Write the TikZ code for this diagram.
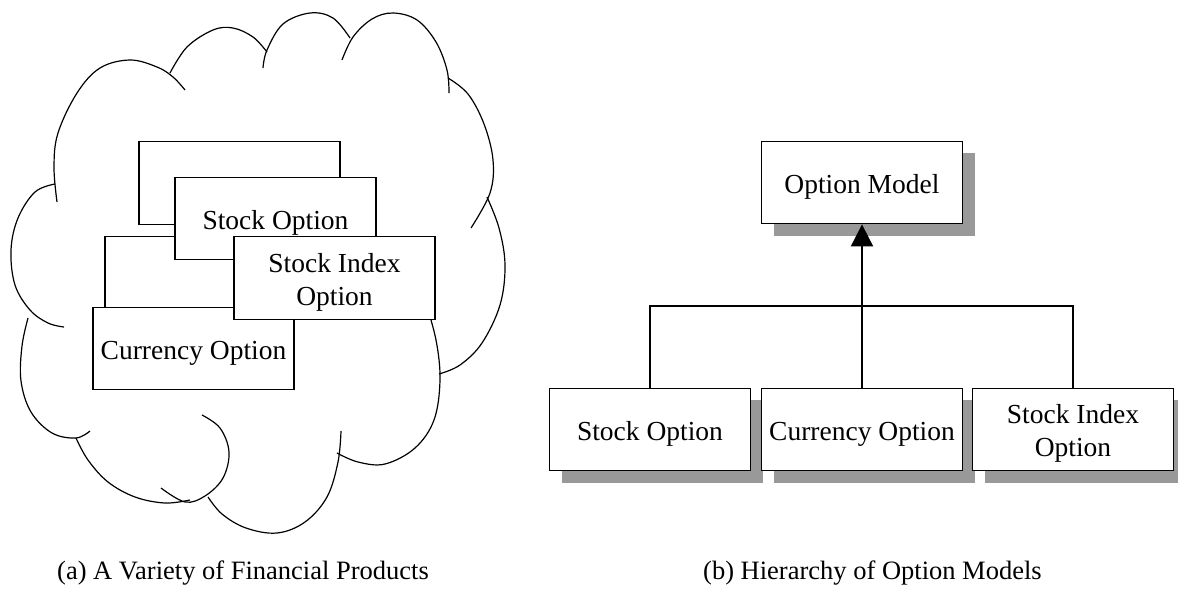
\documentclass[tikz,border=0pt]{standalone}
\usepackage{fontspec}
\setmainfont{Liberation Serif}
\usetikzlibrary{arrows.meta,shadows}
\definecolor{shadowgray}{HTML}{999999}
\newcommand\tstr{\rule{0pt}{27pt}}
\tikzset{
  box/.style={draw, fill=white, line width=1.3pt, minimum width=201pt,
    minimum height=82.5pt, inner sep=2pt, align=center,
    font=\fontsize{27.5}{33}\selectfont},
  sbox/.style={box, drop shadow={shadow xshift=12pt, shadow yshift=-12pt,
    fill=shadowgray, opacity=1, draw=none}},
  lobe/.style={line width=1.2pt, smooth, tension=0.6},
  conn/.style={line width=1.3pt},
  captext/.style={anchor=base west, inner sep=0pt, font=\fontsize{26.5}{32}\selectfont},
}
\begin{document}
\begin{tikzpicture}[x=1pt,y=-1pt]
\useasboundingbox (0,0) rectangle (1178,598);
% ---------- cloud ----------
\draw[lobe] plot coordinates {(57,202) (54,167) (58,133) (77,93) (100,68) (130,60) (157,67) (173,77) (185,90)};
\draw[lobe] plot coordinates {(170,73) (187,47) (213,30) (233,28) (253,37) (267,52)};
\draw[lobe] plot coordinates {(263,68) (267,50) (283,24) (310,13) (333,18) (350,38)};
\draw[lobe] plot coordinates {(342,60) (353,37) (372,19) (393,13) (417,20) (436,42) (447,70) (449,93)};
\draw[lobe] plot coordinates {(448,78) (468,94) (484,124) (493,160) (490,193) (471,228)};
\draw[lobe] plot coordinates {(487,197) (499,228) (505,265) (500,305) (482,343) (460,365) (439,374)};
\draw[lobe] plot coordinates {(425,300) (436,340) (440,380) (434,420) (415,448) (385,464) (358,462) (337,453)};
\draw[lobe] plot coordinates {(341,431) (338,462) (327,497) (305,522) (277,533) (246,528) (222,514) (208,497)};
\draw[lobe] plot coordinates {(202,415) (220,428) (229,452) (223,478) (205,496) (185,502) (161,488)};
\draw[lobe] plot coordinates {(76,438) (88,460) (108,482) (135,497) (165,503) (190,500)};
\draw[lobe] plot coordinates {(28,318) (22,346) (21,381) (31,412) (52,433) (76,438) (90,431)};
\draw[lobe] plot coordinates {(55,184) (35,192) (18,218) (11,250) (15,285) (30,310) (48,323) (64,327)};
% ---------- left boxes ----------
\node[box] (back1) at (239.5,183) {};
\node[box] (back2) at (205.5,278) {};
\node[box] (so1) at (275.5,218.5) {\tstr Stock Option};
\node[box] (cu1) at (193.5,348.5) {\tstr Currency Option};
\node[box] (si1) at (334.5,278) {\tstr Stock Index\\Option};
% ---------- right hierarchy ----------
\node[sbox] (om) at (862,182.5) {\tstr Option Model};
\node[sbox] (so2) at (650,429.5) {\tstr Stock Option};
\node[sbox] (cu2) at (862,429.5) {\tstr Currency Option};
\node[sbox] (si2) at (1073,429.5) {\tstr Stock Index\\Option};
\coordinate (junc) at (862,306);
\draw[conn] (so2.north) |- (junc) -| (si2.north);
\draw[conn] (cu2.north) -- (junc);
\draw[line width=2pt, -{Triangle[width=22pt,length=22pt]}] (junc) -- (om.south);
% ---------- captions ----------
\node[captext] (capa) at (57,579) {(a) A Variety of Financial Products};
\node[captext] (capb) at (703,579) {(b) Hierarchy of Option Models};
\end{tikzpicture}
\end{document}
